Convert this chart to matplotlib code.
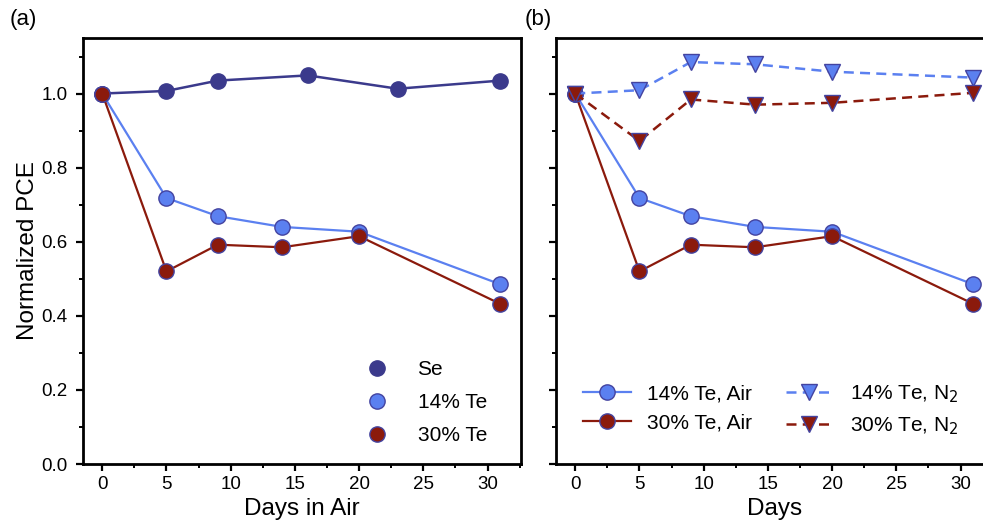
import numpy as np
import matplotlib
matplotlib.use('Agg')
import matplotlib.pyplot as plt
from matplotlib.ticker import MultipleLocator

plt.rcParams['font.family'] = ['Liberation Sans', 'DejaVu Sans']

## datos
days_se = [0, 5, 9, 16, 23, 31]
pce_se = [1.0, 1.007, 1.035, 1.049, 1.013, 1.035]

days_air = [0, 5, 9, 14, 20, 31]
pce_14_air = [1.0, 0.718, 0.669, 0.640, 0.627, 0.485]
pce_30_air = [1.0, 0.520, 0.592, 0.585, 0.615, 0.432]

days_n2 = [0, 5, 9, 14, 20, 31]
pce_14_n2 = [1.0, 1.009, 1.085, 1.079, 1.059, 1.043]
pce_30_n2 = [1.0, 0.872, 0.984, 0.970, 0.975, 1.002]

navy = '#3b3a8c'
blue = '#5b80f0'
red = '#8b1a0c'
edge = '#4343a0'

fig = plt.figure(figsize=(9.83, 5.21), dpi=100)
ax1 = fig.add_axes([0.0844, 0.1094, 0.4456, 0.8177])
ax2 = fig.add_axes([0.5656, 0.1094, 0.4456, 0.8177])

ms = 11
for ax in (ax1, ax2):
    ax.set_xlim(-1.5, 32.6)
    ax.set_ylim(0, 1.15)
    ax.xaxis.set_major_locator(MultipleLocator(5))
    ax.xaxis.set_minor_locator(MultipleLocator(2.5))
    ax.yaxis.set_major_locator(MultipleLocator(0.2))
    ax.yaxis.set_minor_locator(MultipleLocator(0.1))
    ax.tick_params(which='major', direction='out', length=5, width=1.6, labelsize=13.5)
    ax.tick_params(which='minor', direction='out', length=3, width=1.4)
    for s in ax.spines.values():
        s.set_linewidth(2)

## panel (a)
ax1.plot(days_se, pce_se, '-o', color=navy, lw=1.8, ms=ms, mfc=navy, mec=navy, mew=1)
ax1.plot(days_air, pce_14_air, '-o', color=blue, lw=1.6, ms=ms, mfc=blue, mec=edge, mew=1)
ax1.plot(days_air, pce_30_air, '-o', color=red, lw=1.6, ms=ms, mfc=red, mec=edge, mew=1)
h1 = [plt.Line2D([], [], ls='', marker='o', ms=ms, mfc=c, mec=e, mew=1)
      for c, e in [(navy, navy), (blue, edge), (red, edge)]]
ax1.legend(h1, ['Se', '14% Te', '30% Te'], loc='lower right', frameon=False,
           fontsize=15, handletextpad=0.95, labelspacing=0.68,
           bbox_to_anchor=(0.965, 0.0))
ax1.set_xlabel('Days in Air', fontsize=17.5, labelpad=4)
ax1.set_ylabel('Normalized PCE', fontsize=17.5, labelpad=2)
ax1.tick_params(axis='y', pad=6)

## panel (b)
ax2.plot(days_air, pce_14_air, '-o', color=blue, lw=1.6, ms=ms, mfc=blue, mec=edge, mew=1,
         label='14% Te, Air')
ax2.plot(days_air, pce_30_air, '-o', color=red, lw=1.6, ms=ms, mfc=red, mec=edge, mew=1,
         label='30% Te, Air')
ax2.plot(days_n2, pce_14_n2, '--v', color=blue, lw=1.8, ms=12, mfc=blue, mec=edge, mew=1,
         dashes=(4, 2.5), label='14% Te, N$_2$')
ax2.plot(days_n2, pce_30_n2, '--v', color=red, lw=1.8, ms=12, mfc=red, mec=edge, mew=1,
         dashes=(4, 2.5), label='30% Te, N$_2$')
ax2.legend(loc='lower left', ncol=2, frameon=False, fontsize=15, handlelength=2.3,
           handletextpad=0.8, columnspacing=1.6, labelspacing=0.5,
           bbox_to_anchor=(0.018, 0.02))
ax2.set_xlabel('Days', fontsize=17.5, labelpad=4)
ax2.set_yticklabels([])

fig.text(0.010, 0.962, '(a)', fontsize=16, va='center')
fig.text(0.534, 0.962, '(b)', fontsize=16, va='center')

fig.savefig('out.png', dpi=100)
